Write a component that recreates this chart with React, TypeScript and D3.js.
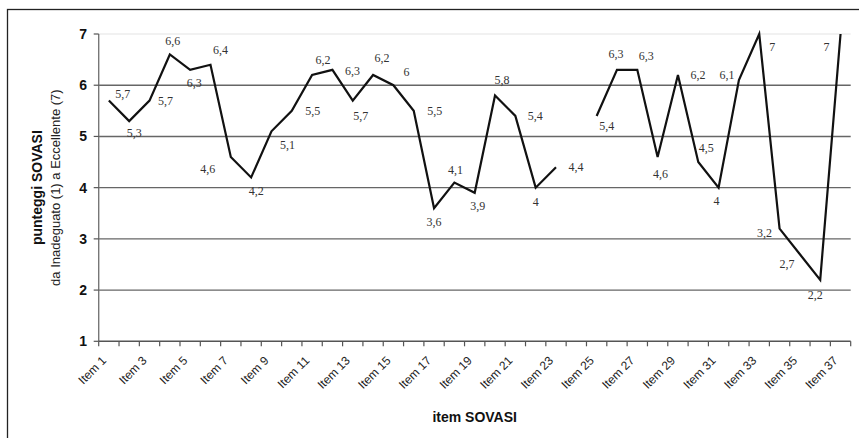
import React from "react";
import * as d3 from "d3";

const items: string[] = Array.from({ length: 37 }, (_, i) => `Item ${i + 1}`);
const scores: (number | null)[] = [
  5.7, 5.3, 5.7, 6.6, 6.3, 6.4, 4.6, 4.2, 5.1, 5.5,
  6.2, 6.3, 5.7, 6.2, 6, 5.5, 3.6, 4.1, 3.9, 5.8,
  5.4, 4, 4.4, null, 5.4, 6.3, 6.3, 4.6, 6.2, 4.5,
  4, 6.1, 7, 3.2, 2.7, 2.2, 7,
];
const yTicks: number[] = [1, 2, 3, 4, 5, 6, 7];
const yTitleMain = "punteggi SOVASI";
const yTitleSub = "da Inadeguato (1) a Eccellente (7)";
const xTitle = "item SOVASI";

// label nudges (layout only, px)
const labelNudges: ([number, number] | null)[] = [
  [14, -7], [5, 12], [16, 0], [3, -13], [4, 13], [10, -15], [-23, 12], [5, 14], [16, 14], [21, 0],
  [11, -15], [20, 1], [8, 15], [9, -17], [13, -13], [21, 0], [0, 14], [1, -13], [3, 13], [7, -15],
  [20, 0], [0, 14], [20, 0], null, [10, 10], [-1, -16], [9, -14], [3, 17], [20, 0], [8, -14],
  [-2, 13], [-12, -5], [13, 13], [-15, 4], [-13, 10], [-5, 15], [-14, 13],
];

const W = 859;
const H = 438;
const left = 98.7;
const right = 850.7;
const top = 34;
const bottom = 341.3;

export default function App() {
  const x = d3.scaleBand<string>().domain(items).range([left, right]).padding(0);
  const y = d3.scaleLinear().domain([1, 7]).range([bottom, top]);
  const cx = (i: number) => (x(items[i]) as number) + x.bandwidth() / 2;

  const line = d3
    .line<number | null>()
    .defined((d) => d != null)
    .x((_, i) => cx(i))
    .y((d) => y(d as number));

  const sans = "'Liberation Sans', Arial, sans-serif";
  const serif = "'Liberation Serif', 'Times New Roman', serif";

  return (
    <svg
      width={W}
      height={H}
      style={{ position: "absolute", left: 0, top: 0, background: "#fff" }}
    >
      <rect x={7.5} y={9.5} width={W + 20} height={H + 20} fill="#fff" stroke="#222" strokeWidth={1.3} />
      {/* gridlines */}
      {yTicks.slice(1).map((t) => (
        <line
          key={"g" + t}
          x1={left}
          x2={right}
          y1={y(t)}
          y2={y(t)}
          stroke={t === 7 ? "#e4e4e4" : "#666"}
          strokeWidth={t === 7 ? 1.2 : 1.4}
        />
      ))}
      {/* axes */}
      <line x1={left} x2={left} y1={top} y2={bottom} stroke="#777" strokeWidth={1.4} />
      <line x1={left} x2={right} y1={bottom} y2={bottom} stroke="#555" strokeWidth={1.4} />
      {yTicks.map((t) => (
        <g key={"yt" + t}>
          <line x1={left - 5} x2={left} y1={y(t)} y2={y(t)} stroke="#555" strokeWidth={1.2} />
          <text
            x={87}
            y={y(t)}
            textAnchor="end"
            dominantBaseline="central"
            fontFamily={sans}
            fontWeight="bold"
            fontSize={14}
            fill="#111"
          >
            {t}
          </text>
        </g>
      ))}
      {items.map((it, i) => (
        <line
          key={"xt" + i}
          x1={x(it) as number}
          x2={x(it) as number}
          y1={bottom}
          y2={bottom + 5}
          stroke="#555"
          strokeWidth={1.2}
        />
      ))}
      <line x1={right} x2={right} y1={bottom} y2={bottom + 5} stroke="#555" strokeWidth={1.2} />
      {items.map((it, i) =>
        i % 2 === 0 ? (
          <text
            key={"xl" + i}
            transform={`translate(${cx(i) - 2},${bottom + 20}) rotate(-45)`}
            textAnchor="end"
            fontFamily={sans}
            fontSize={12}
            fill="#222"
          >
            {it}
          </text>
        ) : null
      )}
      {/* series */}
      <path d={line(scores) || ""} fill="none" stroke="#111" strokeWidth={2.2} strokeLinejoin="miter" />
      {scores.map((v, i) => {
        const n = labelNudges[i];
        if (v == null || !n) return null;
        return (
          <text
            key={"l" + i}
            x={cx(i) + n[0]}
            y={y(v) + n[1]}
            textAnchor="middle"
            dominantBaseline="central"
            fontFamily={serif}
            fontSize={12}
            fill="#333"
          >
            {String(v).replace(".", ",")}
          </text>
        );
      })}
      {/* titles */}
      <text
        transform={`translate(37,${(top + bottom) / 2}) rotate(-90)`}
        textAnchor="middle"
        dominantBaseline="central"
        fontFamily={sans}
        fontWeight="bold"
        fontSize={14}
        fill="#111"
      >
        {yTitleMain}
      </text>
      <text
        transform={`translate(55,${(top + bottom) / 2}) rotate(-90)`}
        textAnchor="middle"
        dominantBaseline="central"
        fontFamily={sans}
        fontSize={13}
        fill="#222"
      >
        {yTitleSub}
      </text>
      <text
        x={(left + right) / 2}
        y={422}
        textAnchor="middle"
        fontFamily={sans}
        fontWeight="bold"
        fontSize={14}
        fill="#111"
      >
        {xTitle}
      </text>
    </svg>
  );
}
